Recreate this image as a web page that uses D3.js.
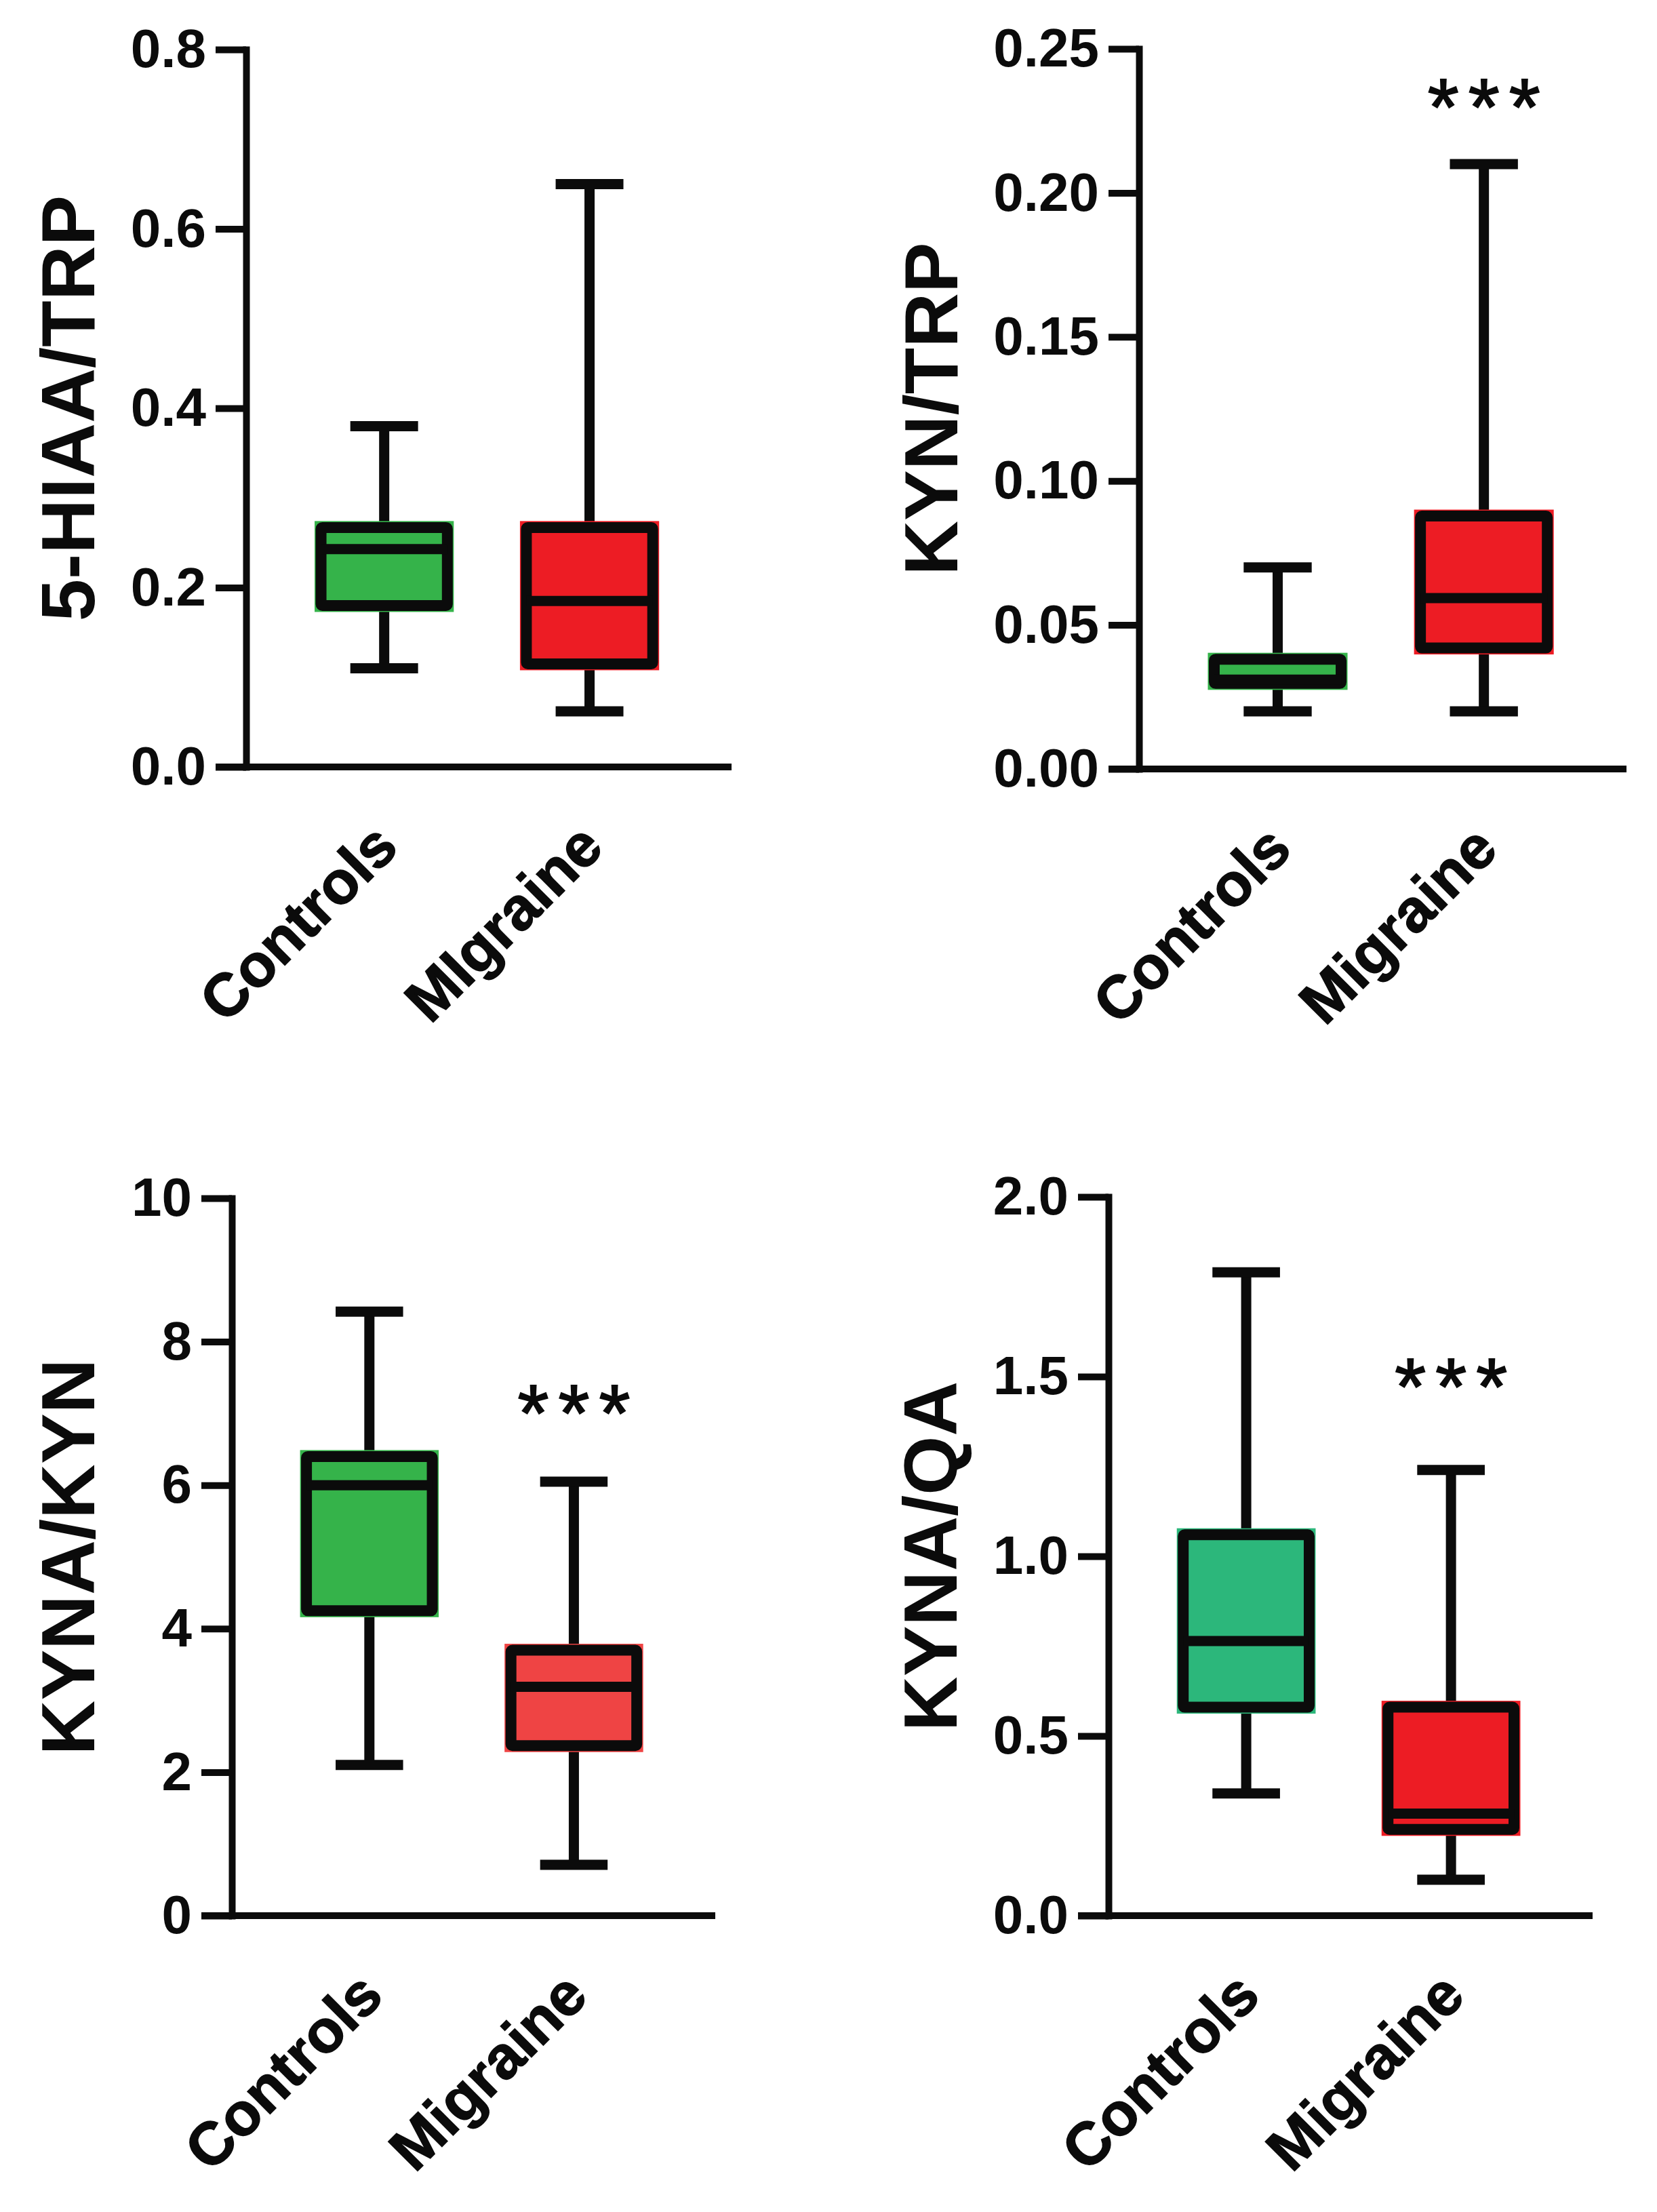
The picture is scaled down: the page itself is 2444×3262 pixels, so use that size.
<!DOCTYPE html>
<html>
<head>
<meta charset="utf-8">
<script src="https://cdn.jsdelivr.net/npm/d3@7"></script>
<style>
  html, body { margin: 0; padding: 0; background: #ffffff; }
  svg { display: block; }
</style>
</head>
<body>
<svg id="chart" width="2444" height="3262"></svg>
<script>
// ---------------- DATA ----------------
const categories = ["Controls", "Migraine"];
const categoryLabelsTL = ["Controls", "MIgraine"];
const yTitles = ["5-HIAA/TRP", "KYN/TRP", "KYNA/KYN", "KYNA/QA"];

// box statistics per group: [min, q1, median, q3, max]
const hiaaTrpStats = [[0.11, 0.18, 0.243, 0.267, 0.38], [0.062, 0.115, 0.185, 0.267, 0.65]];
const kynTrpStats  = [[0.02, 0.0297, 0.031, 0.0381, 0.07], [0.02, 0.042, 0.0593, 0.0878, 0.21]];
const kynaKynStats = [[2.1, 4.25, 6.0, 6.4, 8.42], [0.71, 2.37, 3.19, 3.7, 6.05]];
const kynaQaStats  = [[0.34, 0.58, 0.764, 1.06, 1.79], [0.10, 0.24, 0.284, 0.58, 1.24]];

// axis ticks
const hiaaTrpTicks = [0, 0.2, 0.4, 0.6, 0.8];
const kynTrpTicks  = [0, 0.05, 0.10, 0.15, 0.20, 0.25];
const kynaKynTicks = [0, 2, 4, 6, 8, 10];
const kynaQaTicks  = [0, 0.5, 1.0, 1.5, 2.0];
const tickFormats = [".1f", ".2f", "d", ".1f"];

// significance marks per group
const hiaaTrpSig = ["", ""];
const kynTrpSig  = ["", "***"];
const kynaKynSig = ["", "***"];
const kynaQaSig  = ["", "***"];
// height (data units) of the significance mark
const sigLevels = [null, 0.234, 7.17, 1.506];

// ---------------- LAYOUT / STYLE ----------------
const layout = [
  { ox: 363,  top: 73,   bottom: 1131, xEnd: 1079, titleX: 139 },
  { ox: 1680, top: 72,   bottom: 1134, xEnd: 2399, titleX: 1412 },
  { ox: 342,  top: 1767, bottom: 2825, xEnd: 1055, titleX: 139 },
  { ox: 1635, top: 1765, bottom: 2825, xEnd: 2349, titleX: 1411 }
];
const fills = [
  ["#35b34a", "#ed1c24"],
  ["#35b34a", "#ed1c24"],
  ["#35b34a", "#ef4444"],
  ["#2cb77b", "#ed1c24"]
];
const FONT = "'Liberation Sans', Arial, Helvetica, sans-serif";
const INK = "#0b0b0b";
const SIG_FS = 118;

const panels = [
  { stats: hiaaTrpStats, ticks: hiaaTrpTicks, sig: hiaaTrpSig, labels: categoryLabelsTL },
  { stats: kynTrpStats,  ticks: kynTrpTicks,  sig: kynTrpSig,  labels: categories },
  { stats: kynaKynStats, ticks: kynaKynTicks, sig: kynaKynSig, labels: categories },
  { stats: kynaQaStats,  ticks: kynaQaTicks,  sig: kynaQaSig,  labels: categories }
];

const svg = d3.select("#chart");

panels.forEach((p, i) => {
  const L = layout[i];
  const g = svg.append("g");
  const tmax = p.ticks[p.ticks.length - 1];

  const y = d3.scaleLinear().domain([0, tmax]).range([L.bottom, L.top]);
  const x = d3.scalePoint().domain(categories).range([L.ox, L.xEnd]).padding(0.682).align(0.493);
  const step = x.step();
  const boxW = step * 0.615;
  const capW = step * 0.33;

  // y axis
  const yAxis = d3.axisLeft(y)
    .tickValues(p.ticks)
    .tickFormat(d3.format(tickFormats[i]))
    .tickSize(45)
    .tickSizeOuter(0)
    .tickPadding(14);
  const ya = g.append("g").attr("transform", `translate(${L.ox},0)`).call(yAxis);
  ya.select(".domain").attr("stroke", INK).attr("stroke-width", 10).attr("stroke-linecap", "square");
  ya.selectAll(".tick line").attr("stroke", INK).attr("stroke-width", 10);
  ya.selectAll(".tick text")
    .attr("fill", INK)
    .style("font-family", FONT)
    .style("font-weight", "bold")
    .style("font-size", "80px");

  // x axis line (no ticks)
  g.append("line")
    .attr("x1", L.ox - 45).attr("x2", L.xEnd)
    .attr("y1", y(0)).attr("y2", y(0))
    .attr("stroke", INK).attr("stroke-width", 10);

  // y title
  g.append("text")
    .attr("transform", `translate(${L.titleX},${(L.top + L.bottom) / 2}) rotate(-90)`)
    .attr("text-anchor", "middle")
    .attr("fill", INK)
    .style("font-family", FONT)
    .style("font-weight", "bold")
    .style("font-size", "112px")
    .text(yTitles[i]);

  // category labels
  g.selectAll(".cat")
    .data(categories)
    .join("text")
    .attr("class", "cat")
    .attr("transform", d => `translate(${x(d) + 24},${y(0) + 122}) rotate(-45)`)
    .attr("text-anchor", "end")
    .attr("fill", INK)
    .attr("stroke", INK)
    .attr("stroke-width", 1.5)
    .style("font-family", FONT)
    .style("font-weight", "bold")
    .style("font-size", "89px")
    .text((d, k) => p.labels[k]);

  // boxes
  const sw = 15;
  categories.forEach((c, k) => {
    const [mn, q1, md, q3, mx] = p.stats[k];
    const cx = x(c);
    const bg = g.append("g");
    // whiskers
    bg.append("line").attr("x1", cx).attr("x2", cx).attr("y1", y(mx)).attr("y2", y(q3))
      .attr("stroke", INK).attr("stroke-width", sw);
    bg.append("line").attr("x1", cx).attr("x2", cx).attr("y1", y(q1)).attr("y2", y(mn))
      .attr("stroke", INK).attr("stroke-width", sw);
    // caps
    [mn, mx].forEach(v => {
      bg.append("line").attr("x1", cx - capW / 2).attr("x2", cx + capW / 2)
        .attr("y1", y(v)).attr("y2", y(v))
        .attr("stroke", INK).attr("stroke-width", sw);
    });
    // fill (slightly larger than the stroke, like the original)
    const ext = sw / 2 + 2;
    bg.append("rect")
      .attr("x", cx - boxW / 2 - ext).attr("width", boxW + 2 * ext)
      .attr("y", y(q3) - ext).attr("height", y(q1) - y(q3) + 2 * ext)
      .attr("fill", fills[i][k]);
    // box outline
    bg.append("rect")
      .attr("x", cx - boxW / 2).attr("width", boxW)
      .attr("y", y(q3)).attr("height", y(q1) - y(q3))
      .attr("fill", "none").attr("stroke", INK).attr("stroke-width", sw + 1)
      .attr("rx", 2);
    // median
    bg.append("line").attr("x1", cx - boxW / 2).attr("x2", cx + boxW / 2)
      .attr("y1", y(md)).attr("y2", y(md))
      .attr("stroke", INK).attr("stroke-width", sw);

    // significance
    if (p.sig[k]) {
      const n = p.sig[k].length;
      const offs = d3.range(n).map(j => j - (n - 1) / 2);
      bg.selectAll(".sig")
        .data(offs)
        .join("text")
        .attr("class", "sig")
        .attr("x", d => cx + d * 60)
        .attr("y", y(sigLevels[i]) + 0.5 * SIG_FS)
        .attr("text-anchor", "middle")
        .attr("fill", INK)
        .attr("stroke", INK)
        .attr("stroke-width", 2)
        .style("font-family", FONT)
        .style("font-size", SIG_FS + "px")
        .text("*");
    }
  });
});
</script>
</body>
</html>
